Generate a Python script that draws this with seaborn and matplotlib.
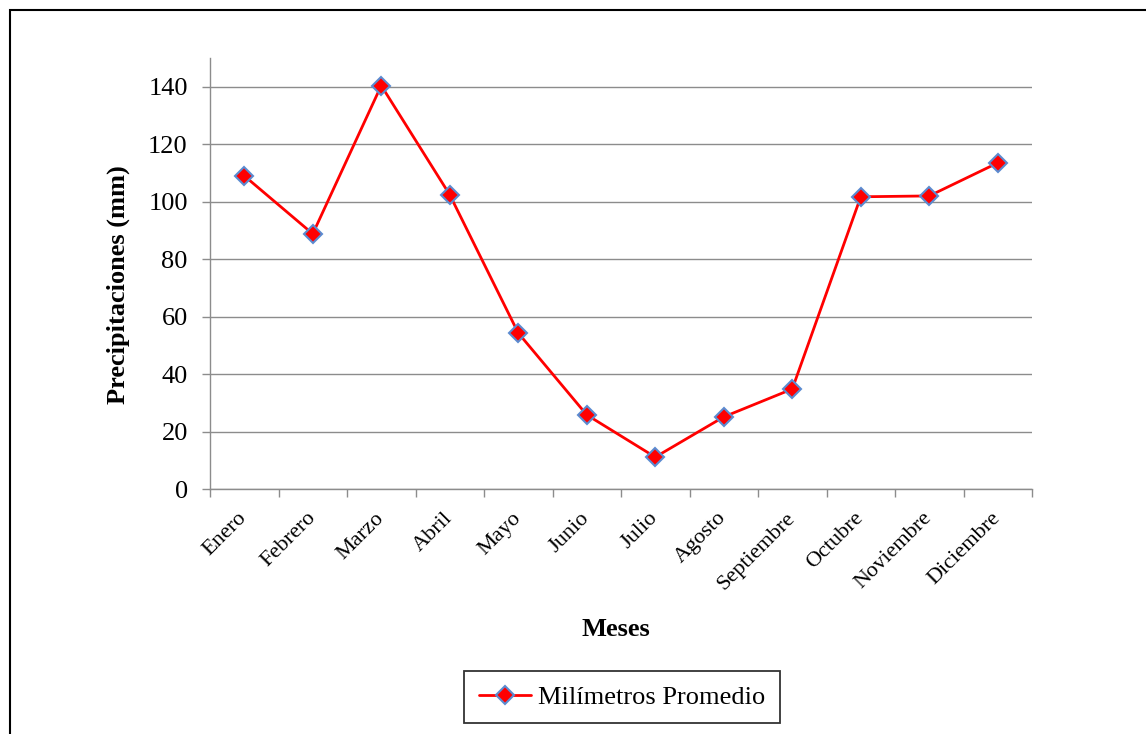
import matplotlib
matplotlib.use("Agg")
import matplotlib.pyplot as plt
import seaborn as sns
import pandas as pd
from matplotlib.patches import Rectangle

meses = ["Enero", "Febrero", "Marzo", "Abril", "Mayo", "Junio", "Julio",
         "Agosto", "Septiembre", "Octubre", "Noviembre", "Diciembre"]
milimetros = [109.0, 88.8, 140.4, 102.4, 54.3, 25.8, 11.1, 25.1, 34.8, 101.7, 102.0, 113.5]
serie = "Milímetros Promedio"

df = pd.DataFrame({"mes": meses, "mm": milimetros, "pos": range(len(meses))})

sns.set_theme(style="white")
plt.rcParams["font.family"] = ["Liberation Serif", "DejaVu Serif"]
plt.rcParams["text.color"] = "black"
plt.rcParams["xtick.labelcolor"] = "black"
plt.rcParams["ytick.labelcolor"] = "black"
plt.rcParams["axes.labelcolor"] = "black"

fig = plt.figure(figsize=(11.46, 7.34), dpi=100)
ax = fig.add_axes([210 / 1146, 1 - 489 / 734, (1032 - 210) / 1146, (489 - 58) / 734])

sns.lineplot(data=df, x="pos", y="mm", ax=ax, color="#FF0000", linewidth=2.0,
             marker="D", markersize=9, markerfacecolor="#FF0000",
             markeredgecolor="#5B8BD0", markeredgewidth=1.5, label=serie, sort=False)

ax.set_xlim(-0.5, len(meses) - 0.5)
ax.set_ylim(0, 150)
ax.set_yticks(range(0, 141, 20))
ax.yaxis.grid(True, color="#8C8C8C", linewidth=1.0)
ax.xaxis.grid(False)

ax.set_xticks([i for i in range(len(meses))])
ax.set_xticklabels(meses, rotation=45, ha="right", va="center",
                   rotation_mode="anchor", fontsize=16)
ax.set_xticks([i - 0.5 for i in range(len(meses) + 1)], minor=True)
ax.tick_params(axis="x", which="major", length=0, pad=19)
ax.tick_params(axis="x", which="minor", length=6, color="#8C8C8C", width=1.0, direction="out", bottom=True)
ax.tick_params(axis="y", length=6, color="#8C8C8C", width=1.0, direction="out", left=True, labelsize=19, pad=10)

for side in ["top", "right"]:
    ax.spines[side].set_visible(False)
for side in ["left", "bottom"]:
    ax.spines[side].set_color("#8C8C8C")
    ax.spines[side].set_linewidth(1.0)

ax.set_xlabel("Meses", fontsize=19, fontweight="bold")
ax.set_ylabel("Precipitaciones (mm)", fontsize=19, fontweight="bold")
ax.xaxis.set_label_coords((616 - 210) / (1032 - 210), -(618 - 489) / (489 - 58))
ax.yaxis.set_label_coords(-(210 - 130) / (1032 - 210), (489 - 285) / (489 - 58))

leg = ax.legend(loc="center", bbox_to_anchor=((622 - 210) / (1032 - 210), -(697 - 489) / (489 - 58)),
                fontsize=19, frameon=True, fancybox=False, borderpad=0.55,
                handlelength=2.0, handletextpad=0.25, borderaxespad=0, edgecolor="black")
leg.get_frame().set_linewidth(1.3)

fig.patches.append(Rectangle((10 / 1146, -0.1), 1.2, 1 - 10 / 734 + 0.1,
                             transform=fig.transFigure, fill=False,
                             edgecolor="black", linewidth=1.5))

fig.savefig("out.png", dpi=100)
